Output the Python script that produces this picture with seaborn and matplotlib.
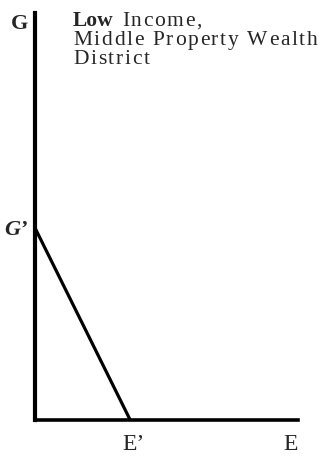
import matplotlib
matplotlib.use("Agg")
import matplotlib.pyplot as plt
import seaborn as sns
import pandas as pd
from matplotlib import font_manager
from matplotlib.font_manager import FontProperties
from matplotlib.ft2font import FT2Font
from matplotlib.transforms import IdentityTransform

# ---- data ----
budget_e = [0.0, 3.62]      # education spending axis (E)
budget_g = [4.72, 0.0]      # other goods axis (G)
x_tick_pos = [3.75, 9.7]
x_tick_labels = ["E\u2019", "E"]
y_tick_pos = [4.72, 9.8]
y_tick_labels = ["G\u2019", "G"]
title_lines = [
    [("Low", "bold"), (" Income,", "normal")],
    [("Middle Property Wealth", "normal")],
    [("District", "normal")],
]

sns.set_style("white")
plt.rcParams["font.family"] = ["Liberation Serif", "DejaVu Serif"]

W, H, DPI = 320, 459, 100
fig = plt.figure(figsize=(W / DPI, H / DPI), dpi=DPI)
ax = fig.add_axes([35 / W, 39 / H, 263 / W, 407 / H])

df = pd.DataFrame({"E": budget_e, "G": budget_g})
sns.lineplot(data=df, x="E", y="G", color="black", linewidth=2.3, ax=ax,
             solid_capstyle="butt")
ax.set_xlim(0, 10)
ax.set_ylim(0, 10)
ax.set_xlabel("")
ax.set_ylabel("")

for s in ["top", "right"]:
    ax.spines[s].set_visible(False)
ax.spines["left"].set_linewidth(3.0)
ax.spines["bottom"].set_linewidth(2.6)
ax.spines["left"].set_color("black")
ax.spines["bottom"].set_color("black")

ax.set_xticks(x_tick_pos)
ax.set_xticklabels(x_tick_labels, fontsize=17)
ax.set_yticks(y_tick_pos)
ax.set_yticklabels(y_tick_labels, fontsize=16, fontweight="bold")
ax.tick_params(axis="x", length=0, pad=10)
ax.tick_params(axis="y", length=0, pad=5)
for lbl in ax.get_yticklabels():
    if lbl.get_text() == "G\u2019":
        lbl.set_fontstyle("italic")

# ---- tracked (letter-spaced) title text ----
size_pt = 15.5
tracking = 1.7
x0 = 73
baselines = [26, 45, 64]


def advance(ch, weight):
    fp = FontProperties(family="Liberation Serif", weight=weight)
    font = FT2Font(font_manager.findfont(fp))
    font.set_size(size_pt, DPI)
    g = font.load_char(ord(ch))
    return g.linearHoriAdvance / 65536.0


for segs, yb in zip(title_lines, baselines):
    x = x0
    for text, weight in segs:
        if weight == "bold":
            fig.text(x, H - yb, text, transform=IdentityTransform(),
                     fontsize=size_pt, fontweight=weight,
                     family="Liberation Serif", ha="left", va="baseline")
            x += sum(advance(ch, weight) for ch in text) + 1
            continue
        for ch in text:
            if ch != " ":
                fig.text(x, H - yb, ch, transform=IdentityTransform(),
                         fontsize=size_pt, fontweight=weight,
                         family="Liberation Serif",
                         ha="left", va="baseline")
            x += advance(ch, weight) + tracking

fig.savefig("out.png", dpi=DPI)
